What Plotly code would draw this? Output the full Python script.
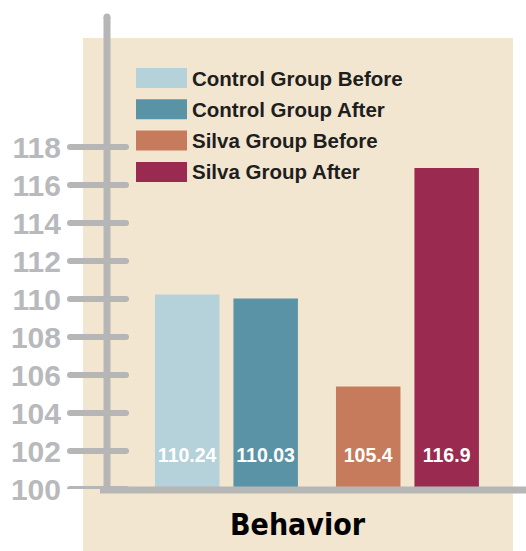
import plotly.graph_objects as go

# ---- data ----
groups = ["Control Group", "Control Group", "Silva Group", "Silva Group"]
series_names = ["Control Group Before", "Control Group After", "Silva Group Before", "Silva Group After"]
phases = ["before", "after", "before", "after"]
values = [110.24, 110.03, 105.4, 116.9]
value_labels = ["110.24", "110.03", "105.4", "116.9"]
colors = ["#b5d1d9", "#5a93a5", "#c67c5c", "#9b2a50"]
tick_values = [100, 102, 104, 106, 108, 110, 112, 114, 116, 118]
x_title = "Behavior"

# ---- geometry (page pixels; body margin removed by post_script) ----
W, H = 526, 551
OFF = 0
PL, PR, PT, PB = 107, 526, 17, 489          # plot area in page pixels
L, R, T, B = PL - OFF, W - (PR - OFF), PT - OFF, H - (PB - OFF)
PW, PH = PR - PL, PB - PT


def px(p):
    return (p - PL) / PW


def py(p):
    return (PB - p) / PH


AX = "#b6b6b6"
LABEL_BAND = 3.6   # height (axis units) of the transparent band that holds the value labels
fig = go.Figure()

for name, g, ph, v, c in zip(series_names, groups, phases, values, colors):
    fig.add_trace(go.Bar(
        x=[g], y=[v], name=name, offsetgroup=ph, marker=dict(color=c, line=dict(width=0)),
        showlegend=False, hoverinfo="x+y",
    ))
for g, ph, lab in zip(groups, phases, value_labels):
    fig.add_trace(go.Bar(
        x=[g], y=[LABEL_BAND], base=[tick_values[0]], offsetgroup=ph,
        marker=dict(color="rgba(0,0,0,0)", line=dict(width=0)),
        text=[lab], textposition="inside", insidetextanchor="middle", constraintext="none",
        textangle=0,
        textfont=dict(family="Liberation Sans", size=19.5, color="white", weight="bold"),
        showlegend=False, hoverinfo="skip",
    ))

shapes = []
# beige panel
shapes.append(dict(type="rect", xref="paper", yref="paper", x0=px(83), x1=px(513),
                   y0=py(560), y1=py(38), fillcolor="#f2e6d0", line=dict(width=0), layer="below"))
# vertical axis line
shapes.append(dict(type="line", xref="paper", yref="paper", x0=0, x1=0, y0=py(490), y1=py(17),
                   line=dict(color=AX, width=7), layer="above"))
shapes.append(dict(type="circle", xref="paper", yref="paper", xsizemode="pixel", ysizemode="pixel",
                   xanchor=0, yanchor=py(17), x0=-3.5, x1=3.5, y0=-3.5, y1=3.5,
                   fillcolor=AX, line=dict(width=0)))
# horizontal axis line
shapes.append(dict(type="line", xref="paper", yref="paper", x0=px(100), x1=1.05, y0=py(490), y1=py(490),
                   line=dict(color=AX, width=7), layer="above"))
# tick marks crossing the axis
for tv in tick_values:
    shapes.append(dict(type="line", xref="paper", yref="y", x0=px(70), x1=px(126), y0=tv, y1=tv,
                       line=dict(color=AX, width=6), layer="above"))
    for xe in (px(70), px(126)):
        shapes.append(dict(type="circle", xref="paper", yref="y", xsizemode="pixel", ysizemode="pixel",
                           xanchor=xe, yanchor=tv, x0=-3, x1=3, y0=-3, y1=3,
                           fillcolor=AX, line=dict(width=0)))

annotations = []
# manual legend
for i, (name, c) in enumerate(zip(series_names, colors)):
    yc = 78 + i * 31.3
    shapes.append(dict(type="rect", xref="paper", yref="paper", x0=px(136), x1=px(187),
                       y0=py(yc + 10), y1=py(yc - 10), fillcolor=c, line=dict(width=0)))
    annotations.append(dict(xref="paper", yref="paper", x=px(190), y=py(yc), text=name,
                            showarrow=False, xanchor="left", yanchor="middle",
                            font=dict(family="Liberation Sans", size=20.5, color="#1e1e1e", weight="bold")))
# x title
annotations.append(dict(xref="paper", yref="paper", x=px(298), y=py(524), text=x_title, showarrow=False,
                        xanchor="center", yanchor="middle",
                        font=dict(family="DejaVu Sans Condensed, Liberation Sans",
                                  size=30, color="#000000", weight="bold")))

ymax = 100 + PH / ((489 - 147) / 18)
fig.update_layout(
    width=W, height=H, margin=dict(l=L, r=R, t=T, b=B, autoexpand=False),
    paper_bgcolor="white", plot_bgcolor="rgba(0,0,0,0)",
    barmode="group", bargap=0.133, bargroupgap=0.178,
    xaxis=dict(range=[-0.66, 1.655], showticklabels=False, showgrid=False, zeroline=False,
               showline=False, ticks="", automargin=False),
    yaxis=dict(range=[100, ymax], tickvals=tick_values, ticktext=[str(t) for t in tick_values],
               showgrid=False, zeroline=False, showline=False, ticks="", ticklabelstandoff=45,
               automargin=False,
               tickfont=dict(family="Liberation Sans", size=30, color="#b8b9bd", weight="bold")),
    shapes=shapes, annotations=annotations,
)

fig.write_html("out.html", config={"displayModeBar": False},
               post_script="document.body.style.margin='0px';document.body.style.overflow='hidden';")
